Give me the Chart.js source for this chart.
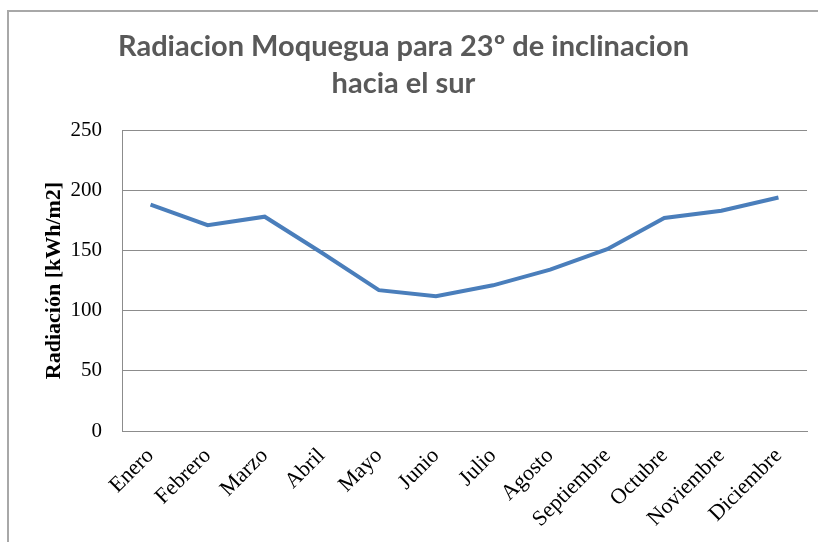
<!DOCTYPE html>
<html>
<head>
<meta charset="utf-8">
<script src="https://cdn.jsdelivr.net/npm/chart.js@4"></script>
<style>
    body{margin:0;background:#fff;}
    #wrap{position:relative;width:818px;height:542px;overflow:hidden;}
    #frame{position:absolute;left:7px;top:10px;width:900px;height:600px;border-left:2px solid #a8a8a8;border-top:2px solid #a8a8a8;}
    #chart{position:absolute;left:0;top:0;}
</style>
</head>
<body>
<div id="wrap">
    <div id="frame"></div>
    <canvas id="chart" width="818" height="542"></canvas>
</div>
<script>
// datos
var meses = ["Enero","Febrero","Marzo","Abril","Mayo","Junio","Julio","Agosto","Septiembre","Octubre","Noviembre","Diciembre"];
var radiacion = [188, 171, 178, 148, 117, 112, 121, 134, 151, 177, 183, 194];
var yTicks = [0, 50, 100, 150, 200, 250];
var titulo = ["Radiacion Moquegua para 23º de inclinacion", "hacia el sur"];
var tituloY = "Radiación [kWh/m2]";

var serif = "'Liberation Serif', 'Times New Roman', serif";

new Chart(document.getElementById("chart"), {
    type: "line",
    data: {
        labels: meses,
        datasets: [{
            label: "Radiacion",
            data: radiacion,
            borderColor: "#4A7EBB",
            borderWidth: 4,
            pointRadius: 0,
            tension: 0,
            fill: false
        }]
    },
    options: {
        responsive: false,
        animation: false,
        layout: { padding: { left: 0, right: 11, top: 0, bottom: 0 } },
        plugins: {
            legend: { display: false },
            tooltip: { enabled: false },
            title: {
                display: true,
                text: titulo,
                color: "#595959",
                font: { family: "Lato, 'Open Sans', sans-serif", size: 29, weight: "bold", lineHeight: 1.276 },
                padding: { top: 28, bottom: 28 }
            }
        },
        scales: {
            x: {
                offset: true,
                grid: { display: false, drawTicks: false },
                border: { display: true, color: "#8c8c8c", width: 1 },
                ticks: {
                    color: "#000",
                    font: { family: serif, size: 22 },
                    minRotation: 45,
                    maxRotation: 45,
                    padding: 12,
                    autoSkip: false
                },
                afterFit: function(scale){ scale.height = 111; }
            },
            y: {
                min: 0,
                max: 250,
                afterBuildTicks: function(scale){
                    scale.ticks = yTicks.map(function(v){ return { value: v }; });
                },
                grid: { color: "#8c8c8c", lineWidth: 1, drawTicks: false },
                border: { display: true, color: "#8c8c8c", width: 1 },
                ticks: {
                    color: "#000",
                    font: { family: serif, size: 21 },
                    padding: 20
                },
                title: {
                    display: true,
                    text: tituloY,
                    color: "#000",
                    font: { family: serif, size: 22, weight: "bold" },
                    padding: { top: 41, bottom: 0 }
                },
                afterFit: function(scale){ scale.width = 122; }
            }
        }
    }
});
</script>
</body>
</html>
